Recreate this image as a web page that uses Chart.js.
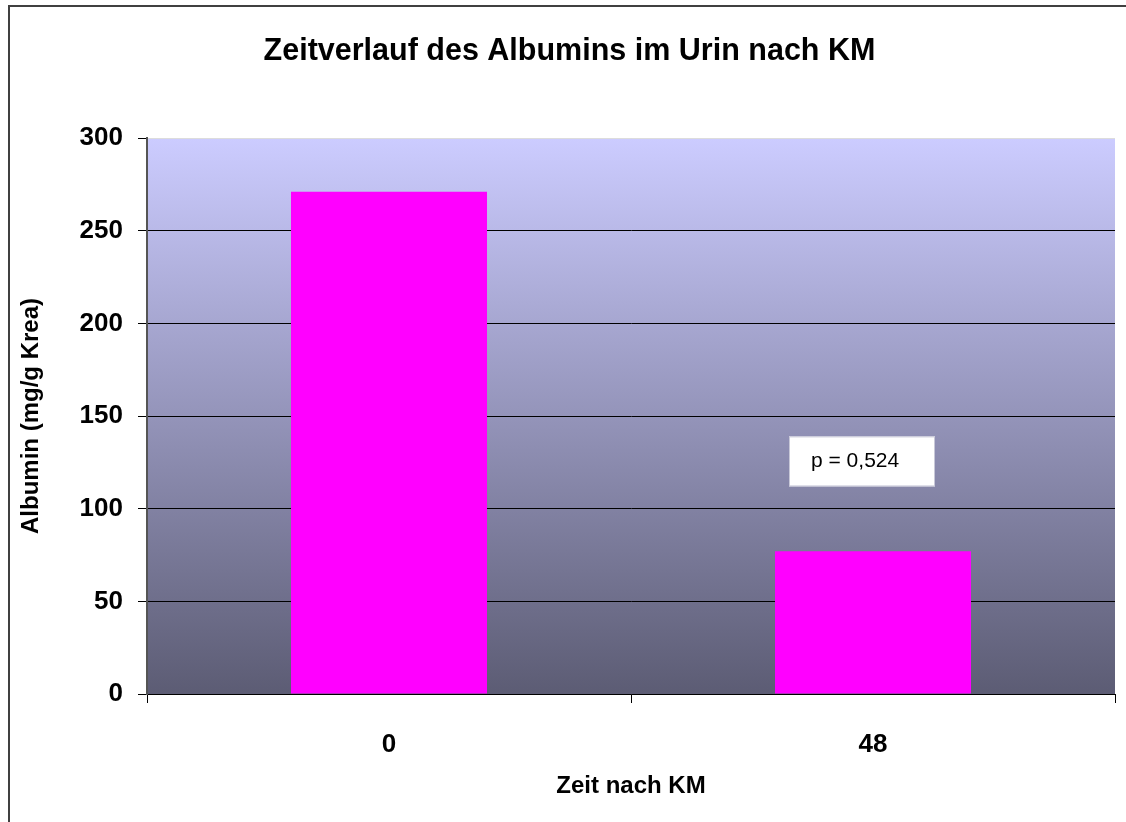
<!DOCTYPE html>
<html>
<head>
<meta charset="utf-8">
<script src="https://cdn.jsdelivr.net/npm/chart.js@4.4.0/dist/chart.umd.min.js"></script>
<style>
  html, body { margin: 0; padding: 0; background: #fff; }
  #wrap { width: 1126px; height: 822px; }
</style>
</head>
<body>
<div id="wrap"><canvas id="albuminChart" width="1126" height="822"></canvas></div>
<script>
const categories = ["0", "48"];
const albuminValues = [271, 77];
const yTicks = [0, 50, 100, 150, 200, 250, 300];
const pLabel = "p = 0,524";
const pBoxRange = [112, 139]; // y range of the p-value box, in axis units

const FONT = "'Liberation Sans', Arial, Helvetica, sans-serif";

// gradient behind the bars + outer frame
const backgroundPlugin = {
  id: "plotBackground",
  beforeDraw(chart) {
    const { ctx, chartArea: a } = chart;
    ctx.save();
    const g = ctx.createLinearGradient(0, a.top, 0, a.bottom);
    g.addColorStop(0, "#ccccff");
    g.addColorStop(1, "#5c5c74");
    ctx.fillStyle = g;
    ctx.fillRect(a.left, a.top, a.right - a.left, a.bottom - a.top);
    // frame of the chart object
    ctx.strokeStyle = "#404040";
    ctx.lineWidth = 2;
    ctx.beginPath();
    ctx.moveTo(9, chart.height);
    ctx.lineTo(9, 6);
    ctx.lineTo(chart.width, 6);
    ctx.stroke();
    ctx.restore();
  }
};

// text box with the p value
const pValuePlugin = {
  id: "pValue",
  afterDatasetsDraw(chart) {
    const { ctx } = chart;
    const x = chart.scales.x.getPixelForValue(1);
    const yTop = chart.scales.y.getPixelForValue(pBoxRange[1]);
    const yBot = chart.scales.y.getPixelForValue(pBoxRange[0]);
    const left = x - 84, right = x + 62;
    ctx.save();
    ctx.fillStyle = "#ffffff";
    ctx.fillRect(left, yTop, right - left, yBot - yTop);
    ctx.strokeStyle = "#c8c8d8";
    ctx.lineWidth = 1;
    ctx.strokeRect(left + 0.5, yTop + 0.5, right - left - 1, yBot - yTop - 1);
    ctx.fillStyle = "#000";
    ctx.font = "21px " + FONT;
    ctx.textBaseline = "middle";
    ctx.textAlign = "left";
    ctx.fillText(pLabel, left + 22, (yTop + yBot) / 2);
    ctx.restore();
  }
};

new Chart(document.getElementById("albuminChart"), {
  type: "bar",
  data: {
    labels: categories,
    datasets: [{
      data: albuminValues,
      backgroundColor: "#ff00ff",
      borderWidth: 0,
      barPercentage: 0.405,
      categoryPercentage: 1
    }]
  },
  options: {
    responsive: false,
    animation: false,
    layout: { padding: { left: 24, right: 11, top: 0, bottom: 0 } },
    plugins: {
      legend: { display: false },
      tooltip: { enabled: false },
      title: {
        display: true,
        text: "Zeitverlauf des Albumins im Urin nach KM",
        color: "#000",
        font: { family: FONT, size: 30.5, weight: "bold", lineHeight: 1.2 },
        padding: { top: 33, bottom: 68.4 }
      }
    },
    scales: {
      x: {
        offset: true,
        afterFit(s) { s.height = 128; },
        grid: { offset: true, drawOnChartArea: false, color: "#000", tickLength: 9 },
        border: { color: "#000", width: 1 },
        ticks: { color: "#000", padding: 26, font: { family: FONT, size: 26, weight: "bold" } },
        title: {
          display: true,
          text: "Zeit nach KM",
          color: "#000",
          font: { family: FONT, size: 24, weight: "bold", lineHeight: 1.2 },
          padding: { top: 0, bottom: 21 }
        }
      },
      y: {
        min: 0,
        max: 300,
        afterFit(s) { s.width = 123; },
        afterBuildTicks(s) { s.ticks = yTicks.map(v => ({ value: v })); },
        grid: {
          color: ctx => (ctx.tick && ctx.tick.value === 300 ? "#dcdcdc" : "#000"),
          tickColor: "#000",
          tickLength: 9
        },
        border: { color: "#555", width: 2 },
        ticks: { color: "#000", padding: 15, font: { family: FONT, size: 26, weight: "bold" } },
        title: {
          display: true,
          text: "Albumin (mg/g Krea)",
          color: "#000",
          font: { family: FONT, size: 24, weight: "bold", lineHeight: 0.6 },
          padding: { top: 0, bottom: 0 }
        }
      }
    }
  },
  plugins: [backgroundPlugin, pValuePlugin]
});
</script>
</body>
</html>
